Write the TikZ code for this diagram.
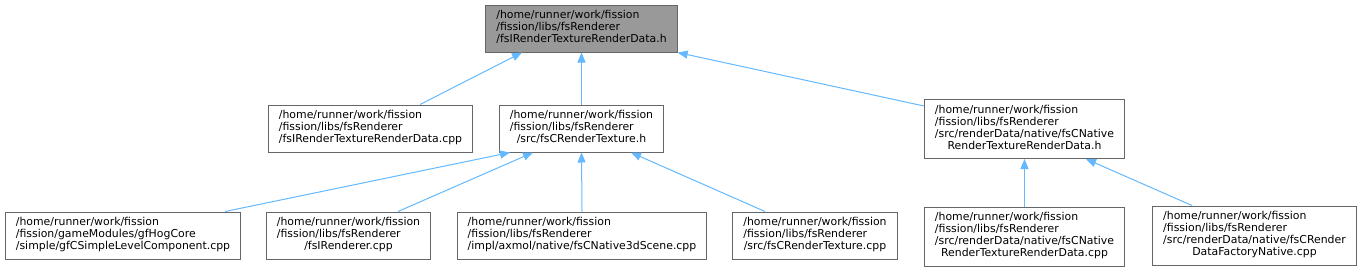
\documentclass[tikz,border=0pt]{standalone}
\usepackage{fontspec}
\setmainfont{DejaVu Sans}
\usetikzlibrary{arrows.meta}
\definecolor{edgeblue}{HTML}{63B8FF}
\definecolor{boxgray}{HTML}{666666}
\definecolor{rootgray}{HTML}{999999}
\newcommand{\fpath}[2]{\begin{tabular}{@{}l@{}}#1\\\multicolumn{1}{@{}c@{}}{#2}\end{tabular}}

\begin{document}
\begin{tikzpicture}[x=1pt,y=-1pt,
  file/.style={draw=boxgray,line width=1pt,fill=white,inner xsep=10.5pt,inner ysep=5.5pt,
    font=\fontsize{10.9}{12}\selectfont},
  edge/.style={-{Triangle[length=10pt,width=8pt]},edgeblue,line width=1pt}]
  \useasboundingbox (0,0) rectangle (1363,271);

  % Header at the top
  \node[file,fill=rootgray] (root) at (581.5,28.5)
    {\fpath{/home/runner/work/fission\\/fission/libs/fsRenderer}{/fsIRenderTextureRenderData.h}};

  % Direct includers
  \node[file] (impl) at (370.5,128.5)
    {\fpath{/home/runner/work/fission\\/fission/libs/fsRenderer}{/fsIRenderTextureRenderData.cpp}};
  \node[file] (rtex) at (581.5,128.5)
    {\fpath{/home/runner/work/fission\\/fission/libs/fsRenderer}{/src/fsCRenderTexture.h}};
  \node[file] (nath) at (1024.5,129)
    {\fpath{/home/runner/work/fission\\/fission/libs/fsRenderer\\/src/renderData/native/fsCNative}{RenderTextureRenderData.h}};

  % Second level
  \node[file] (level) at (123,235.5)
    {\fpath{/home/runner/work/fission\\/fission/gameModules/gfHogCore}{/simple/gfCSimpleLevelComponent.cpp}};
  \node[file] (rend) at (348.5,235.5)
    {\fpath{/home/runner/work/fission\\/fission/libs/fsRenderer}{/fsIRenderer.cpp}};
  \node[file] (scene) at (582,235.5)
    {\fpath{/home/runner/work/fission\\/fission/libs/fsRenderer}{/impl/axmol/native/fsCNative3dScene.cpp}};
  \node[file] (rtexcpp) at (815,235.5)
    {\fpath{/home/runner/work/fission\\/fission/libs/fsRenderer}{/src/fsCRenderTexture.cpp}};
  \node[file] (natcpp) at (1024.5,236.5)
    {\fpath{/home/runner/work/fission\\/fission/libs/fsRenderer\\/src/renderData/native/fsCNative}{RenderTextureRenderData.cpp}};
  \node[file] (factory) at (1254.5,235.5)
    {\fpath{/home/runner/work/fission\\/fission/libs/fsRenderer\\/src/renderData/native/fsCRender}{DataFactoryNative.cpp}};

  % Include edges, pointing at the included file
  \draw[edge] ([xshift=49.5pt]impl.north) -- ([xshift=-59.5pt]root.south);
  \draw[edge] (rtex.north) -- (root.south);
  \draw[edge] ([yshift=23pt]nath.west) -- (root.south east);

  \draw[edge] ([xshift=-16pt]level.north east) -- ([xshift=-71.5pt]rtex.south);
  \draw[edge] ([xshift=49.5pt]rend.north) -- ([xshift=-48.5pt]rtex.south);
  \draw[edge] (scene.north) -- (rtex.south);
  \draw[edge] ([xshift=-50pt]rtexcpp.north) -- ([xshift=49.5pt]rtex.south);

  \draw[edge] (natcpp.north) -- (nath.south);
  \draw[edge] ([xshift=-62.5pt]factory.north) -- ([xshift=61.5pt]nath.south);
\end{tikzpicture}
\end{document}
